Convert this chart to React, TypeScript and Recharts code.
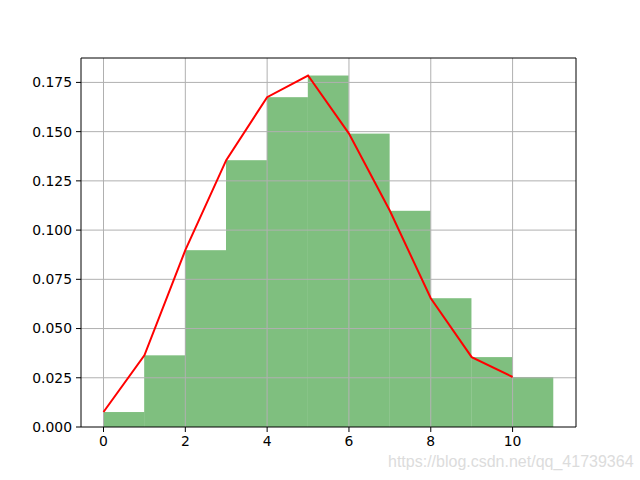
import { ComposedChart, Bar, Line, XAxis, YAxis, ReferenceLine } from 'recharts'

// histogram bins (left edges) and normalised counts
const binStarts = [0, 1, 2, 3, 4, 5, 6, 7, 8, 9, 10]
const density = [0.0076, 0.0364, 0.0898, 0.1355, 0.1675, 0.1785, 0.149, 0.1098, 0.0654, 0.0355, 0.0254]

const xTicks = [0, 2, 4, 6, 8, 10]
const yTicks = [0, 0.025, 0.05, 0.075, 0.1, 0.125, 0.15, 0.175]

const FONT = "'DejaVu Sans', sans-serif"

const W = 640
const H = 480
const MARGIN = { top: 58, right: 64, bottom: 0, left: 0 }
const Y_AXIS_W = 81
const X_DOMAIN: [number, number] = [-0.55, 11.55]
const Y_DOMAIN: [number, number] = [0, 0.1874]

export default function App() {
  // bars centred in their bin, line sits on the left edges
  const barData = binStarts.map((s, i) => ({ x: s + 0.5, y: density[i] }))
  const lineData = binStarts.map((s, i) => ({ x: s, y: density[i] }))

  // one bin is one x unit wide; recharts' band is narrower because the
  // line points sit between the bar centres, so widen the rect here
  const plotW = W - MARGIN.left - MARGIN.right - Y_AXIS_W
  const binPx = plotW / (X_DOMAIN[1] - X_DOMAIN[0])

  const HistRect = (props: any) => {
    const { x, y, width, height } = props
    const cx = x + width / 2
    return (
      <rect
        x={cx - binPx / 2}
        y={y}
        width={binPx}
        height={height}
        fill="#008000"
        fillOpacity={0.5}
      />
    )
  }

  const tickStyle = { fill: '#000', fontSize: 13.9, fontFamily: FONT }

  return (
    <div style={{ position: 'absolute', left: 0, top: 0, width: W, height: H, background: '#fff' }}>
      <ComposedChart
        width={W}
        height={H}
        data={barData}
        margin={MARGIN}
        barCategoryGap={0}
        barGap={0}
      >
        <XAxis
          dataKey="x"
          type="number"
          domain={X_DOMAIN}
          allowDataOverflow
          ticks={xTicks}
          height={53}
          tickSize={5}
          tickMargin={4}
          tick={tickStyle}
          stroke="#000"
          tickLine={{ stroke: '#000' }}
          axisLine={{ stroke: '#000' }}
        />
        <YAxis
          type="number"
          domain={Y_DOMAIN}
          allowDataOverflow
          ticks={yTicks}
          width={Y_AXIS_W}
          tickSize={5}
          tickMargin={4}
          tick={tickStyle}
          tickFormatter={(v: number) => v.toFixed(3)}
          tickLine={{ stroke: '#000' }}
          axisLine={{ stroke: '#000' }}
        />
        <Bar dataKey="y" fill="#008000" fillOpacity={0.5} shape={HistRect} isAnimationActive={false} />
        {/* grid drawn as reference lines so it sits above the bars */}
        {xTicks.map((t) => (
          <ReferenceLine key={`gx-${t}`} x={t} stroke="#b0b0b0" strokeWidth={1} />
        ))}
        {yTicks.slice(1).map((t) => (
          <ReferenceLine key={`gy-${t}`} y={t} stroke="#b0b0b0" strokeWidth={1} />
        ))}
        {/* top and right spines */}
        <ReferenceLine x={X_DOMAIN[1]} stroke="#000" strokeWidth={1} />
        <ReferenceLine y={Y_DOMAIN[1]} stroke="#000" strokeWidth={1} />
        <Line
          data={lineData}
          dataKey="y"
          type="linear"
          stroke="#ff0000"
          strokeWidth={2}
          dot={false}
          activeDot={false}
          isAnimationActive={false}
        />
      </ComposedChart>
      <div
        style={{
          position: 'absolute',
          left: 388,
          top: 453,
          fontFamily: "'Liberation Sans', Arial, sans-serif",
          fontSize: 16,
          color: '#dcdcdc',
          whiteSpace: 'nowrap',
        }}
      >
        https://blog.csdn.net/qq_41739364
      </div>
    </div>
  )
}
